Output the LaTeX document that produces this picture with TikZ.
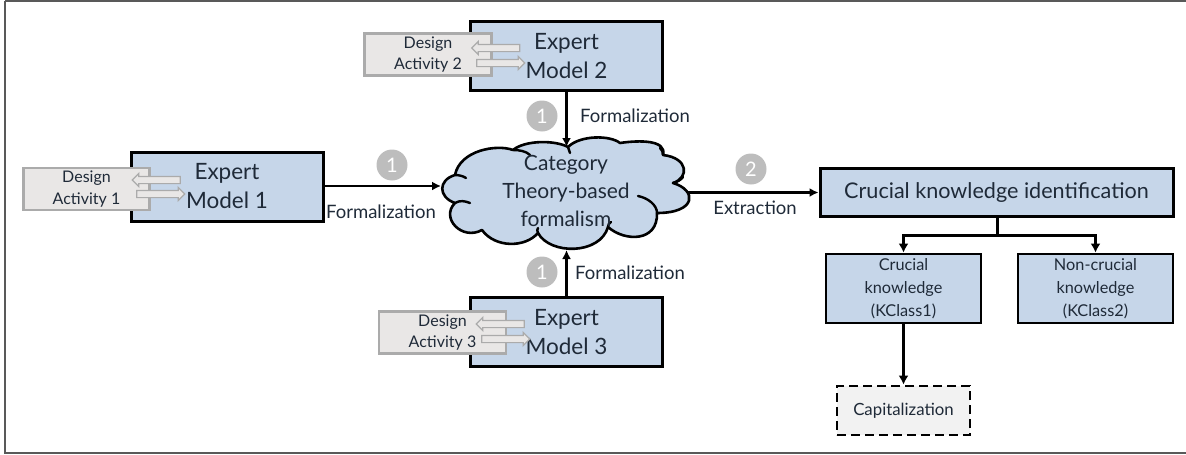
\documentclass[tikz,border=0pt]{standalone}
\usepackage{fontspec}
\setmainfont{Lato}
\usetikzlibrary{arrows.meta}
\usetikzlibrary{shapes.arrows}
\definecolor{boxblue}{HTML}{C6D6E9}
\definecolor{inkdark}{HTML}{1F2A38}
\definecolor{activitygrey}{HTML}{E9E7E6}
\definecolor{edgegrey}{HTML}{ABABAB}
\definecolor{markgrey}{HTML}{BDBDBD}
\tikzset{
    x=1pt, y=-1pt,
    flow/.style={draw=black, line width=2.4pt, -{Latex[length=9pt,width=9pt]}},
    bus/.style={draw=black, line width=3pt},
    busarrow/.style={draw=black, line width=3pt, -{Latex[length=9pt,width=10pt]}},
    modelbox/.style={draw=black, line width=3pt, fill=boxblue, text=inkdark, font=\fontsize{22.5}{29}\selectfont, align=center, minimum width=192pt, minimum height=69pt, inner sep=0pt},
    activitybox/.style={draw=edgegrey, line width=2.4pt, fill=activitygrey, text=inkdark, font=\fontsize{16}{21.5}\selectfont, align=center, minimum width=126pt, minimum height=42pt, inner sep=0pt},
    classbox/.style={draw=black, line width=2.8pt, fill=boxblue, text=inkdark, font=\fontsize{16.3}{23}\selectfont, align=center, minimum width=155pt, minimum height=69pt, inner sep=0pt},
    hollowarrow/.style={draw=edgegrey, line width=1.2pt, fill=activitygrey, single arrow, single arrow head extend=3pt, single arrow tip angle=90, minimum height=48pt, minimum width=8pt, inner sep=3pt},
    stepmark/.style={circle, fill=markgrey, text=white, font=\fontsize{20}{20}\selectfont, minimum size=31pt, inner sep=0pt},
    edgelabel/.style={text=inkdark, font=\fontsize{18.5}{22}\selectfont, inner sep=0pt},
}
\begin{document}
\begin{tikzpicture}
    \useasboundingbox (0,0) rectangle (1186,455);
    \draw[line width=1.6pt, draw=black!65] (5,1) -- (1190,1) (5,1) -- (5,453) -- (1190,453);
    % expert models
    \node[modelbox] (model1) at (227,186.5) {Expert\\Model 1};
    \node[modelbox] (model2) at (566.5,56) {Expert\\Model 2};
    \node[modelbox] (model3) at (566.5,332) {Expert\\Model 3};
    % design activities
    \node[activitybox] (activity1) at (86.5,189) {Design\\Activity 1};
    \node[activitybox, minimum width=127pt] (activity2) at (428,54.5) {Design\\Activity 2};
    \node[activitybox, minimum width=127pt] (activity3) at (442.5,332.5) {Design\\Activity 3};
    \node[hollowarrow, shape border rotate=180] (back1) at (158,180) {};
    \node[hollowarrow] (forth1) at (159,194) {};
    \node[hollowarrow, shape border rotate=180] (back2) at (497.5,48) {};
    \node[hollowarrow] (forth2) at (499,63) {};
    \node[hollowarrow, shape border rotate=180] (back3) at (502,324) {};
    \node[hollowarrow] (forth3) at (504,339) {};
    % cloud
    \draw[line width=2.6pt, fill=boxblue, line join=round]
        (455,175) .. controls (460,150) and (497,144) .. (513,150)
        .. controls (525,140) and (555,140) .. (568,147)
        .. controls (580,135) and (610,135) .. (620,143)
        .. controls (640,140) and (667,140) .. (663,155)
        .. controls (689,158) and (689,178) .. (673,183)
        .. controls (697,190) and (697,213) .. (657,213)
        .. controls (658,242) and (625,242) .. (608,227)
        .. controls (600,255) and (550,255) .. (538,233)
        .. controls (525,248) and (495,248) .. (482,230)
        .. controls (462,241) and (440,218) .. (455,203)
        .. controls (438,197) and (438,180) .. (455,175) -- cycle;
    \draw[line width=2.4pt, line cap=round]
        (455,175) .. controls (459,175) and (463,176) .. (466,178)
        (455,203) .. controls (460,200) and (465,201) .. (470,203)
        (513,150) .. controls (519,150) and (526,151) .. (530,155)
        (568,147) -- (570,153)
        (663,155) .. controls (663,152) and (662,150) .. (660,148)
        (673,183) .. controls (677,182) and (681,180) .. (683,177)
        (657,213) .. controls (657,205) and (648,198) .. (638,196)
        (608,227) .. controls (608,225) and (609,223) .. (611,222)
        (538,233) .. controls (537,231) and (537,229) .. (538,228);
    \node[text=inkdark, align=center, inner sep=0pt, font=\fontsize{21}{28}\selectfont] (formalism) at (566,191) {Category\\Theory-based\\formalism};
    \coordinate (formalismwest) at (441,186);
    \coordinate (formalismnorth) at (566.5,147);
    \coordinate (formalismsouth) at (566.5,250);
    \coordinate (formalismeast) at (688,192.5);
    % right column
    \node[modelbox, minimum width=353pt, minimum height=48pt, font=\fontsize{21.6}{26}\selectfont] (crucial) at (996.5,192.5) {Crucial knowledge identification};
    \node[classbox] (kclass1) at (903.5,288.5) {Crucial\\knowledge\\(KClass1)};
    \node[classbox] (kclass2) at (1095.5,288.5) {Non-crucial\\knowledge\\(KClass2)};
    \node[draw=black, dash pattern=on 9pt off 5pt, line width=2.8pt, fill=black!5, text=inkdark, minimum width=133pt, minimum height=49pt, inner sep=0pt, font=\fontsize{16.8}{20}\selectfont] (capital) at (903.5,410.5) {Capitalization};
    % connectors
    \draw[flow] (model1.east |- formalismwest) -- (formalismwest);
    \draw[flow] (model2.south) -- (formalismnorth);
    \draw[flow] (model3.north) -- (formalismsouth);
    \draw[flow] (formalismeast) -- (crucial.west |- formalismeast);
    \coordinate (split) at (997,235);
    \draw[bus] (split |- crucial.south) -- (split);
    \draw[busarrow] (split) -| (kclass1.north);
    \draw[busarrow] (split) -| (kclass2.north);
    \draw[busarrow] (kclass1.south) -- (capital.north -| kclass1.south);
    % step marks
    \node[stepmark] (mark1) at (392,165) {1};
    \node[stepmark] (mark2) at (542,116) {1};
    \node[stepmark] (mark3) at (542,272) {1};
    \node[stepmark] (mark4) at (751,169) {2};
    % labels
    \node[edgelabel] (label1) at (381,212) {Formalization};
    \node[edgelabel] (label2) at (635,116) {Formalization};
    \node[edgelabel] (label3) at (630,273) {Formalization};
    \node[edgelabel] (label4) at (755,208) {Extraction};
\end{tikzpicture}
\end{document}
